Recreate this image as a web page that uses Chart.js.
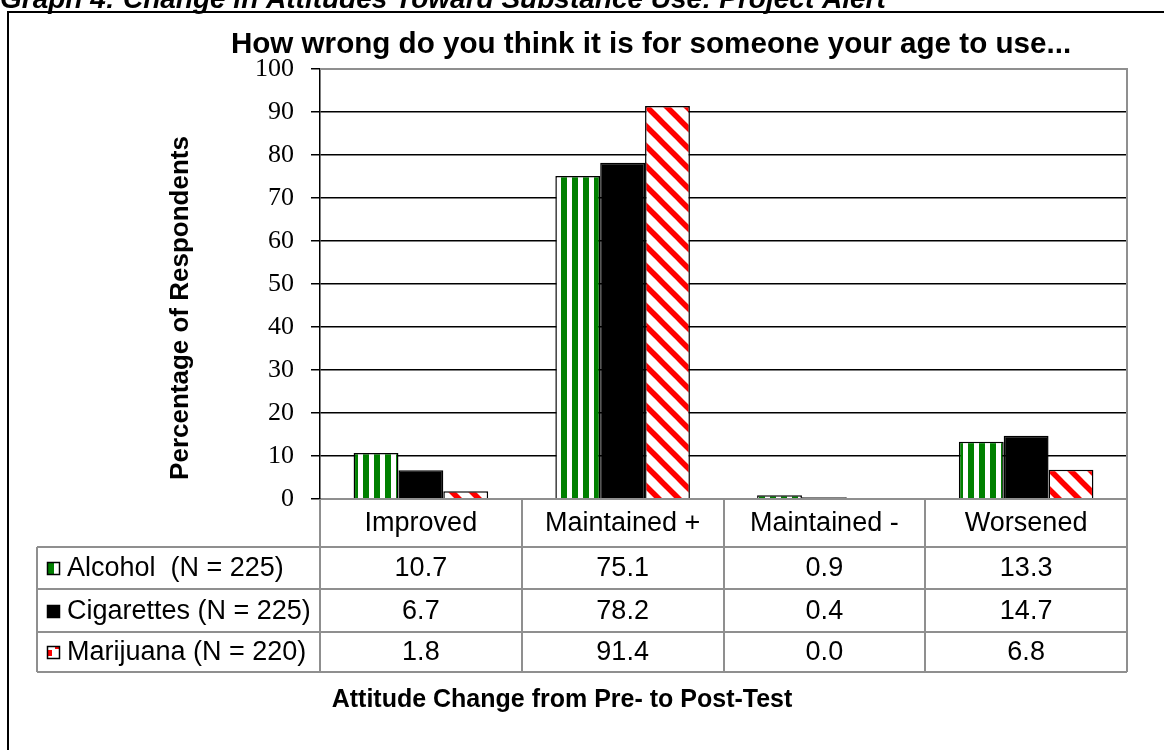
<!DOCTYPE html>
<html>
<head>
<meta charset="utf-8">
<script src="https://cdn.jsdelivr.net/npm/chart.js@4.4.0/dist/chart.umd.min.js"></script>
<style>
  body { margin: 0; background: #fff; }
</style>
</head>
<body>
<canvas id="graph" width="1164" height="750"></canvas>
<script>
// data
var categories = ['Improved', 'Maintained +', 'Maintained -', 'Worsened'];
var seriesNames = ['Alcohol  (N = 225)', 'Cigarettes (N = 225)', 'Marijuana (N = 220)'];
var alcohol = [10.7, 75.1, 0.9, 13.3];
var cigarettes = [6.7, 78.2, 0.4, 14.7];
var marijuana = [1.8, 91.4, 0.0, 6.8];
var yMin = 0, yMax = 100, yStep = 10;

var pageTitle = 'Graph 4: Change in Attitudes Toward Substance Use: Project Alert';
var chartTitle = 'How wrong do you think it is for someone your age to use...';
var yTitle = 'Percentage of Respondents';
var xTitle = 'Attitude Change from Pre- to Post-Test';

// fill patterns like the excel ones
function stripePattern() {
    var c = document.createElement('canvas');
    c.width = 11; c.height = 11;
    var g = c.getContext('2d');
    g.fillStyle = '#fff';
    g.fillRect(0, 0, 11, 11);
    g.fillStyle = '#008000';
    g.fillRect(0, 0, 6, 11);
    return g.createPattern(c, 'repeat');
}
function diagPattern() {
    var s = 20;
    var c = document.createElement('canvas');
    c.width = s; c.height = s;
    var g = c.getContext('2d');
    g.fillStyle = '#fff';
    g.fillRect(0, 0, s, s);
    g.strokeStyle = '#ff0000';
    g.lineWidth = 5.5;
    for (var k = -s; k <= s; k += s) {
        g.beginPath();
        g.moveTo(k - 2, -2);
        g.lineTo(k + s + 2, s + 2);
        g.stroke();
    }
    return g.createPattern(c, 'repeat');
}
var greenFill = stripePattern();
var redFill = diagPattern();
var fills = [greenFill, '#000000', redFill];
var seriesData = [alcohol, cigarettes, marijuana];

var gridGrey = '#8f8f8f';
var sans = '"Liberation Sans", Arial, sans-serif';

// table rows (y of the horizontal lines)
var rowLines = [499, 547, 589, 632, 672];
var tableLeft = 37;

var chartExtras = {
    id: 'chartExtras',
    beforeDraw: function (chart) {
        var ctx = chart.ctx;
        ctx.save();
        ctx.fillStyle = '#fff';
        ctx.fillRect(0, 0, chart.width, chart.height);
        // outer frame
        ctx.strokeStyle = '#000';
        ctx.lineWidth = 2;
        ctx.strokeRect(8, 12, 1300, 900);
        // page title, cut off at the top
        ctx.fillStyle = '#000';
        ctx.font = 'italic bold 28px ' + sans;
        ctx.textAlign = 'left';
        ctx.textBaseline = 'alphabetic';
        ctx.fillText(pageTitle, 0, 8);
        ctx.restore();
    },
    afterDraw: function (chart) {
        var ctx = chart.ctx;
        var area = chart.chartArea;
        var x = chart.scales.x;
        ctx.save();

        // plot area border (top + right)
        ctx.strokeStyle = gridGrey;
        ctx.lineWidth = 2;
        ctx.beginPath();
        ctx.moveTo(area.left, area.top);
        ctx.lineTo(area.right, area.top);
        ctx.lineTo(area.right, area.bottom);
        ctx.stroke();

        // data table grid
        var colW = (area.right - area.left) / categories.length;
        ctx.beginPath();
        ctx.moveTo(area.left + 1, rowLines[0]);
        ctx.lineTo(area.right, rowLines[0]);
        for (var r = 1; r < rowLines.length; r++) {
            ctx.moveTo(tableLeft, rowLines[r]);
            ctx.lineTo(area.right, rowLines[r]);
        }
        ctx.moveTo(tableLeft, rowLines[1]);
        ctx.lineTo(tableLeft, rowLines[4]);
        for (var c = 0; c <= categories.length; c++) {
            var cx = Math.round(area.left + c * colW);
            ctx.moveTo(cx, c === 0 ? rowLines[0] + 1 : rowLines[0]);
            ctx.lineTo(cx, rowLines[4]);
        }
        ctx.stroke();

        // header row + values
        ctx.fillStyle = '#000';
        ctx.font = '27px ' + sans;
        ctx.textAlign = 'center';
        ctx.textBaseline = 'middle';
        categories.forEach(function (cat, i) {
            ctx.fillText(cat, x.getPixelForValue(i), (rowLines[0] + rowLines[1]) / 2 + 1);
        });
        seriesData.forEach(function (vals, s) {
            var cy = (rowLines[s + 1] + rowLines[s + 2]) / 2 + 1;
            vals.forEach(function (v, i) {
                ctx.fillText(v.toFixed(1), x.getPixelForValue(i), cy);
            });
        });

        // legend keys and names
        ctx.textAlign = 'left';
        seriesNames.forEach(function (name, s) {
            var cy = (rowLines[s + 1] + rowLines[s + 2]) / 2;
            var kx = 47, ky = Math.round(cy - 6), ks = 13;
            if (s === 0) {
                ctx.fillStyle = '#fff';
                ctx.fillRect(kx, ky, ks, ks);
                ctx.fillStyle = '#008000';
                ctx.fillRect(kx + 1, ky, 6, ks);
            } else if (s === 1) {
                ctx.fillStyle = '#000';
                ctx.fillRect(kx, ky, ks, ks);
            } else {
                ctx.fillStyle = '#fff';
                ctx.fillRect(kx, ky, ks, ks);
                ctx.fillStyle = '#ff0000';
                ctx.fillRect(kx + 1, ky + 4, 4, 6);
                ctx.fillRect(kx + 8, ky, 4, 3);
            }
            ctx.strokeStyle = '#000';
            ctx.lineWidth = 1.5;
            ctx.strokeRect(kx + 0.5, ky + 0.5, ks - 1, ks - 1);
            ctx.fillStyle = '#000';
            ctx.fillText(name, 67, cy + 1);
        });

        // titles
        ctx.font = 'bold 29.6px ' + sans;
        ctx.textAlign = 'center';
        ctx.textBaseline = 'alphabetic';
        ctx.fillText(chartTitle, 651, 53);

        ctx.font = 'bold 25px ' + sans;
        ctx.fillText(xTitle, 562, 707);

        ctx.translate(188, 308);
        ctx.rotate(-Math.PI / 2);
        ctx.font = 'bold 26px ' + sans;
        ctx.fillText(yTitle, 0, 0);
        ctx.restore();
    }
};

new Chart(document.getElementById('graph'), {
    type: 'bar',
    data: {
        labels: categories,
        datasets: seriesNames.map(function (name, s) {
            return {
                label: name,
                data: seriesData[s],
                backgroundColor: fills[s],
                borderColor: '#000',
                borderWidth: 1.5,
                borderSkipped: 'bottom',
                categoryPercentage: 0.667,
                barPercentage: 1.0
            };
        })
    },
    options: {
        responsive: false,
        animation: false,
        devicePixelRatio: 1,
        layout: { padding: { left: 0, top: 69, right: 37, bottom: 251 } },
        plugins: {
            legend: { display: false },
            title: { display: false },
            tooltip: { enabled: false }
        },
        scales: {
            x: { display: false },
            y: {
                min: yMin,
                max: yMax,
                afterFit: function (scale) { scale.width = 320; },
                ticks: {
                    stepSize: yStep,
                    color: '#000',
                    padding: 17,
                    font: { family: '"Liberation Serif", "Times New Roman", serif', size: 26 }
                },
                grid: {
                    color: '#000',
                    lineWidth: 1.5,
                    tickLength: 9,
                    tickColor: '#000'
                },
                border: { display: true, color: '#000', width: 1.5 }
            }
        }
    },
    plugins: [chartExtras]
});
</script>
</body>
</html>
